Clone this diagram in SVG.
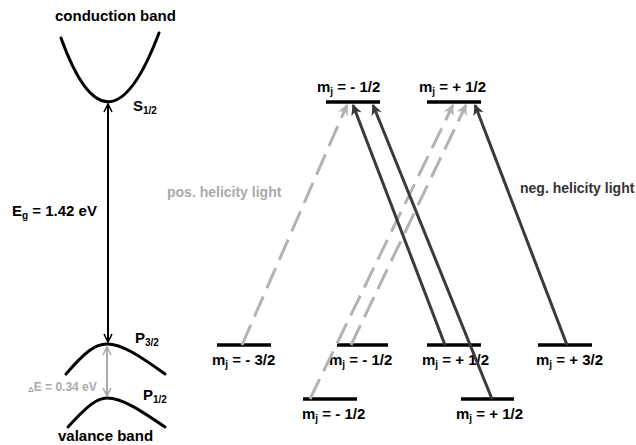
<svg xmlns="http://www.w3.org/2000/svg" width="636" height="445" viewBox="0 0 636 445">
<defs>
<style>
text{font-family:"Liberation Sans",Arial,sans-serif;font-weight:bold;}
.lbl{font-size:15px;fill:#000;}
.sub{font-size:10px;}
.band{fill:none;stroke:#000;stroke-width:3;stroke-linecap:round;}
.lvl{stroke:#000;stroke-width:3.5;}
.dark{stroke:#3a3a3a;stroke-width:3;fill:none;}
.gray{stroke:#b3b3b3;stroke-width:3;fill:none;stroke-dasharray:22 9;}
</style>
<marker id="chev" viewBox="0 0 10 10" refX="9" refY="5" markerWidth="10" markerHeight="10" markerUnits="userSpaceOnUse" orient="auto-start-reverse">
<path d="M1,1 L9,5 L1,9" fill="none" stroke="#000" stroke-width="1.6"/>
</marker>
<marker id="chevg" viewBox="0 0 10 10" refX="9" refY="5" markerWidth="10" markerHeight="10" markerUnits="userSpaceOnUse" orient="auto-start-reverse">
<path d="M1,1 L9,5 L1,9" fill="none" stroke="#aaa" stroke-width="1.6"/>
</marker>
<marker id="ad" viewBox="0 0 10 10" refX="9" refY="5" markerWidth="13" markerHeight="11" markerUnits="userSpaceOnUse" orient="auto">
<path d="M0,0 L10,5 L0,10 L3,5 Z" fill="#3a3a3a"/>
</marker>
<marker id="ag" viewBox="0 0 10 10" refX="9" refY="5" markerWidth="13" markerHeight="11" markerUnits="userSpaceOnUse" orient="auto">
<path d="M0,0 L10,5 L0,10 L3,5 Z" fill="#b3b3b3"/>
</marker>
</defs>

<g id="conduction-band">
<path class="band" d="M61,38 Q108,168 159,33"/>
<text class="lbl" x="55" y="21">conduction band</text>
<text class="lbl" x="133" y="111">S<tspan class="sub" dy="3">1/2</tspan></text>
</g>

<g id="p32-band">
<path class="band" d="M66,374 C85,352 95,344 107,344 C122,344 140,356 165,374"/>
<text class="lbl" x="135" y="343">P<tspan class="sub" dy="3">3/2</tspan></text>
</g>

<g id="p12-band">
<path class="band" d="M68,427 C87,406 97,398 107,398 C122,398 140,410 165,427"/>
<text class="lbl" x="143" y="400">P<tspan class="sub" dy="3">1/2</tspan></text>
<text class="lbl" x="58" y="441">valance band</text>
</g>

<g id="gap-labels">
<text class="lbl" x="12" y="216">E<tspan class="sub" dy="3">g</tspan><tspan dy="-3"> = 1.42 eV</tspan></text>
<text x="28" y="391" style="font-size:12px;fill:#aaa;"><tspan style="font-size:8px;" dy="1">Δ</tspan><tspan dy="-1">E = 0.34 eV</tspan></text>
<text x="167" y="197" style="font-size:14px;fill:#aaa;">pos. helicity light</text>
<text x="520" y="193" style="font-size:14px;fill:#333;">neg. helicity light</text>
</g>

<g id="level-top-m12">
<line class="lvl" x1="326" y1="102" x2="380" y2="102"/>
<text class="lbl" x="317" y="92">m<tspan class="sub" dy="3">j</tspan><tspan dy="-3"> = - 1/2</tspan></text>
</g>
<g id="level-top-p12">
<line class="lvl" x1="427" y1="102" x2="481" y2="102"/>
<text class="lbl" x="419" y="92">m<tspan class="sub" dy="3">j</tspan><tspan dy="-3"> = + 1/2</tspan></text>
</g>
<g id="level-m32">
<line class="lvl" x1="217" y1="345" x2="271" y2="345"/>
<text class="lbl" x="212" y="365">m<tspan class="sub" dy="3">j</tspan><tspan dy="-3"> = - 3/2</tspan></text>
</g>
<g id="level-m12">
<line class="lvl" x1="337" y1="345" x2="388" y2="345"/>
<text class="lbl" x="329" y="365">m<tspan class="sub" dy="3">j</tspan><tspan dy="-3"> = - 1/2</tspan></text>
</g>
<g id="level-p12">
<line class="lvl" x1="427" y1="345" x2="481" y2="345"/>
<text class="lbl" x="422" y="365">m<tspan class="sub" dy="3">j</tspan><tspan dy="-3"> = + 1/2</tspan></text>
</g>
<g id="level-p32">
<line class="lvl" x1="538" y1="345" x2="592" y2="345"/>
<text class="lbl" x="536" y="365">m<tspan class="sub" dy="3">j</tspan><tspan dy="-3"> = + 3/2</tspan></text>
</g>
<g id="level-bot-m12">
<line class="lvl" x1="303" y1="399" x2="357" y2="399"/>
<text class="lbl" x="302" y="419">m<tspan class="sub" dy="3">j</tspan><tspan dy="-3"> = - 1/2</tspan></text>
</g>
<g id="level-bot-p12">
<line class="lvl" x1="461" y1="399" x2="514" y2="399"/>
<text class="lbl" x="456" y="419">m<tspan class="sub" dy="3">j</tspan><tspan dy="-3"> = + 1/2</tspan></text>
</g>

<g id="connectors">
<line x1="108" y1="104" x2="108" y2="342" stroke="#000" stroke-width="2" marker-start="url(#chev)" marker-end="url(#chev)"/>
<line x1="107" y1="347" x2="107" y2="396" stroke="#aaa" stroke-width="2" marker-start="url(#chevg)" marker-end="url(#chevg)"/>
<line class="gray" x1="242" y1="345" x2="347" y2="105" marker-end="url(#ag)"/>
<line class="gray" x1="351" y1="345" x2="466" y2="105" marker-end="url(#ag)"/>
<line class="gray" x1="310" y1="399" x2="453" y2="105" marker-end="url(#ag)"/>
<line class="dark" x1="445" y1="345" x2="353" y2="105" marker-end="url(#ad)"/>
<line class="dark" x1="492" y1="399" x2="373" y2="105" marker-end="url(#ad)"/>
<line class="dark" x1="567" y1="345" x2="475" y2="105" marker-end="url(#ad)"/>
</g>
</svg>
